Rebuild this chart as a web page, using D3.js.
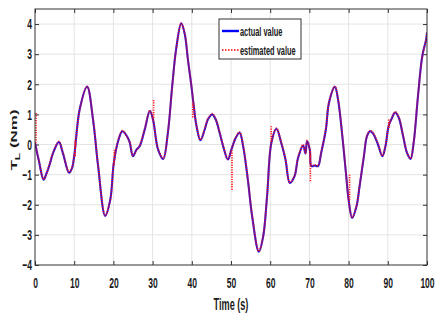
<!DOCTYPE html>
<html>
<head>
<meta charset="utf-8">
<script src="https://cdn.jsdelivr.net/npm/d3@7"></script>
<style>
  html, body { margin: 0; padding: 0; background: #fff; }
  svg { display: block; }
  text { font-family: "Liberation Sans", Arial, sans-serif; font-weight: bold; fill: #1a1a1a; }
</style>
</head>
<body>
<svg id="chart" width="441" height="323"></svg>
<script>
// ---- data ----
const timeS = [0,1,2.2,2.9,3.6,4.8,6.1,7.1,8.7,9.4,10,11.4,13.3,14.8,16.1,17.9,19.2,20.1,21.2,22.3,23.7,24.2,25,25.9,26.7,28,29.3,30.1,31.4,32.7,33.9,35,36,37.3,38.2,39,39.9,40.5,41.2,42.2,43.3,44.1,45.2,46.1,47.1,48,49.2,50.1,51.2,52.2,53.1,54.3,55.4,57.1,58.2,59.2,60.3,61.6,62.8,63.9,65,66.2,67.1,68.4,69,69.4,70.1,70.5,71.4,72.2,73,74.2,75,76.5,77.3,78.4,79.4,80,80.9,82,82.8,83.9,84.7,85.5,86.2,87.5,88.6,89.4,90.2,90.9,91.9,92.8,93.9,94.9,95.8,96.6,97.7,98.8,99.8,100];
const actualValue = [0.06,-0.55,-1.17,-0.97,-0.72,-0.22,0.08,-0.28,-0.94,-0.8,-0.39,1.17,1.92,0.83,-0.72,-2.37,-1.83,-0.61,0.11,0.44,0.22,0.05,-0.39,-0.17,-0.06,0.5,1.11,0.83,-0.17,-0.48,0.39,1.94,3.17,4.03,3.67,2.83,1.94,1.28,0.61,0.14,0.5,0.83,1.0,0.83,0.39,-0.06,-0.5,-0.17,0.22,0.39,-0.06,-1.17,-2.39,-3.56,-3.06,-1.72,0.06,0.52,0.06,-0.5,-1.28,-1.06,-0.45,-0.03,-0.3,0.11,-0.17,-0.72,-0.7,-0.72,-0.28,0.5,1.39,1.92,1.5,0.28,-1.06,-1.83,-2.44,-2.06,-1.39,-0.39,0.28,0.44,0.37,0.0,-0.39,-0.06,0.61,0.83,1.06,0.89,0.28,-0.28,-0.48,0.06,1.61,2.94,3.5,3.72];
const estimatedValue = [0.06,-0.53,-1.15,-0.99,-0.7,-0.2,0.1,-0.26,-0.92,-0.78,-0.39,1.15,1.93,0.85,-0.7,-2.36,-1.85,-0.61,0.13,0.46,0.2,0.07,-0.37,-0.19,-0.04,0.52,1.13,0.83,-0.15,-0.46,0.41,1.92,3.15,4.02,3.69,2.85,1.96,1.28,0.63,0.16,0.52,0.85,1.02,0.85,0.41,-0.04,-0.48,-0.17,0.24,0.41,-0.04,-1.15,-2.37,-3.54,-3.04,-1.7,0.06,0.54,0.08,-0.48,-1.26,-1.04,-0.43,-0.01,-0.28,0.13,-0.17,-0.7,-0.68,-0.7,-0.26,0.52,1.41,1.93,1.52,0.3,-1.04,-1.83,-2.42,-2.04,-1.37,-0.37,0.3,0.46,0.39,0.02,-0.37,-0.04,0.61,0.85,1.08,0.91,0.3,-0.26,-0.46,0.08,1.63,2.92,3.5,3.72];
// estimator re-initialisation transients (start value -> value where it rejoins)
const resetTimes = [0,10,20,30,40,50,60,70,80,90];
const resetStart = [1.05,0.14,-0.17,1.48,0.9,-1.5,0.61,-1.22,-1.0,0.83];
const resetEnd   = [0.06,-0.39,-0.67,0.83,1.4,-0.2,0.06,-0.17,-1.83,0.55];
const xTickValues = [0,10,20,30,40,50,60,70,80,90,100];
const yTickValues = [-4,-3,-2,-1,0,1,2,3,4];
const seriesNames = ["actual value","estimated value"];

// ---- layout ----
const SX = 0.57; // horizontal squeeze of the lettering
const svg = d3.select("#chart");
const x = d3.scaleLinear().domain([0,100]).range([35,427]);
const y = d3.scaleLinear().domain([-4,4.5]).range([265,9]);

svg.append("defs").append("clipPath").attr("id","clip")
  .append("rect").attr("x",35).attr("y",9).attr("width",392).attr("height",256);

// grid
const grid = svg.append("g");
grid.selectAll(".gx").data(xTickValues.slice(1,-1)).join("line")
  .attr("x1",d=>x(d)).attr("x2",d=>x(d)).attr("y1",9).attr("y2",265)
  .attr("stroke","#e4e4e4").attr("stroke-width",1);
grid.selectAll(".gy").data(yTickValues.slice(1)).join("line")
  .attr("y1",d=>y(d)).attr("y2",d=>y(d)).attr("x1",35).attr("x2",427)
  .attr("stroke","#e4e4e4").attr("stroke-width",1);

// axes
function styleAxis(g){ g.select(".domain").remove(); g.selectAll(".tick line").attr("stroke","#333"); }
const gB = svg.append("g").attr("transform","translate(0,265)")
  .call(d3.axisBottom(x).tickValues(xTickValues).tickSizeInner(-4).tickSizeOuter(0).tickPadding(12).tickFormat(d3.format("d")));
const gT = svg.append("g").attr("transform","translate(0,9)")
  .call(d3.axisTop(x).tickValues(xTickValues).tickSizeInner(-4).tickSizeOuter(0).tickFormat(""));
const gL = svg.append("g").attr("transform","translate(35,0)")
  .call(d3.axisLeft(y).tickValues(yTickValues).tickSizeInner(-4).tickSizeOuter(0).tickPadding(3).tickFormat(d3.format("d")));
const gR = svg.append("g").attr("transform","translate(427,0)")
  .call(d3.axisRight(y).tickValues(yTickValues).tickSizeInner(-4).tickSizeOuter(0).tickFormat(""));
[gB,gT,gL,gR].forEach(styleAxis);
[gB,gL].forEach(g=>g.selectAll(".tick text")
  .attr("font-size",15).attr("font-family",'"Liberation Sans", Arial, sans-serif').attr("font-weight","bold").attr("fill","#1a1a1a"));
gB.selectAll(".tick text").attr("transform",`scale(${SX},1)`);
gL.selectAll(".tick text").attr("x",-3/SX).attr("transform",`scale(${SX},1)`);

// lines
const lineGen = d3.line().x(d=>x(d[0])).y(d=>y(d[1])).curve(d3.curveCatmullRom.alpha(0.5));
const plot = svg.append("g").attr("clip-path","url(#clip)");
plot.append("path").datum(timeS.map((t,i)=>[t,actualValue[i]]))
  .attr("d",lineGen).attr("fill","none").attr("stroke","#1010ee").attr("stroke-width",2);
plot.append("path").datum(timeS.map((t,i)=>[t,estimatedValue[i]]))
  .attr("d",lineGen).attr("fill","none").attr("stroke","#ff1010").attr("stroke-width",2)
  .attr("stroke-dasharray","1,1").attr("stroke-opacity",0.85);
plot.selectAll(".reset").data(resetTimes).join("line")
  .attr("x1",(d)=>x(d)+1).attr("x2",(d)=>x(d)+1)
  .attr("y1",(d,i)=>y(resetStart[i])).attr("y2",(d,i)=>y(resetEnd[i]))
  .attr("stroke","#ff1010").attr("stroke-width",1.6).attr("stroke-dasharray","1.2,1.2");

// frame
svg.append("rect").attr("x",35).attr("y",9).attr("width",392).attr("height",256)
  .attr("fill","none").attr("stroke","#333").attr("stroke-width",1);

// axis titles
svg.append("text").attr("transform",`translate(231,310) scale(${SX},1)`)
  .attr("text-anchor","middle").attr("font-size",16).text("Time (s)");
const yl = svg.append("text").attr("transform",`translate(17,140) rotate(-90) scale(1,${SX})`)
  .attr("text-anchor","middle").attr("font-size",17);
yl.append("tspan").text("T");
yl.append("tspan").attr("font-size",12).attr("dy",5).text("L");
yl.append("tspan").attr("dy",-5).text(" (Nm)");

// legend
const lg = svg.append("g");
lg.append("rect").attr("x",219).attr("y",19).attr("width",82).attr("height",40)
  .attr("fill","#fff").attr("stroke","#333").attr("stroke-width",1);
const legendStyles = [{c:"#0000ff",w:2.4,dash:null,y:31},{c:"#ff0000",w:1.6,dash:"1.5,1.5",y:50}];
seriesNames.forEach((name,i)=>{
  const s = legendStyles[i];
  lg.append("line").attr("x1",222).attr("x2",239).attr("y1",s.y).attr("y2",s.y)
    .attr("stroke",s.c).attr("stroke-width",s.w).attr("stroke-dasharray",s.dash);
  lg.append("text").attr("transform",`translate(240,${s.y+4.5}) scale(${SX},1)`)
    .attr("font-size",13).text(name);
});
</script>
</body>
</html>
